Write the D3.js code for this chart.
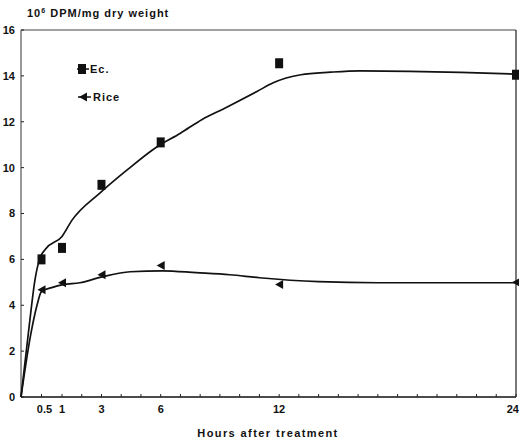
<!DOCTYPE html>
<html>
<head>
<meta charset="utf-8">
<script src="https://cdn.jsdelivr.net/npm/d3@7"></script>
<style>
  body { margin: 0; background: #fff; }
  svg { display: block; font-family: "Liberation Sans", Arial, sans-serif; }
  .lbl { font-size: 11px; font-weight: bold; fill: #111; }
</style>
</head>
<body>
<svg width="519" height="441"></svg>
<script>
const W = 519, H = 441;
const margin = {top: 30, right: 3, bottom: 44, left: 21};

// measured points
const hours = [0.5, 1, 3, 6, 12, 24];
const ecValues = [6.0, 6.5, 9.25, 11.1, 14.55, 14.05];
const riceValues = [4.68, 4.98, 5.33, 5.73, 4.9, 5.0];

// fitted curves as drawn (hours, value)
const ecFitHours = [0, 0.2, 0.34, 0.45, 0.6, 1.0, 1.5, 2.93, 4.3, 5.8, 7.0, 8.1, 9.15, 10.9, 11.7, 13.1, 14.6, 16.1, 18.6, 21.2, 24];
const ecFitValues = [0, 3.1, 5.1, 6.0, 6.45, 7.0, 7.7, 8.9, 9.9, 10.9, 11.5, 12.1, 12.55, 13.33, 13.7, 14.05, 14.16, 14.22, 14.2, 14.15, 14.08];
const riceFitHours = [0, 0.24, 0.39, 0.5, 0.75, 1.05, 1.9, 3.08, 4.45, 6.1, 7.8, 9.5, 11, 14, 17, 24];
const riceFitValues = [0, 2.75, 4.0, 4.6, 4.77, 4.9, 4.98, 5.25, 5.46, 5.5, 5.42, 5.33, 5.2, 5.03, 4.98, 4.98];

const yTicks = [0, 2, 4, 6, 8, 10, 12, 14, 16];
const xLabelTicks = [0.5, 1, 3, 6, 12, 24];
const xMinorTicks = [0.5].concat(d3.range(1, 25));

const innerW = W - margin.left - margin.right;
const innerH = H - margin.top - margin.bottom;

const svg = d3.select("svg");
const g = svg.append("g").attr("transform", `translate(${margin.left},${margin.top})`);

// broken time axis: first hour is stretched
const x = d3.scaleLinear().domain([0, 1, 24]).range([0, 41, innerW]);
const y = d3.scaleLinear().domain([0, 16]).range([innerH, 0]);

// frame
g.append("line").attr("x1", 0).attr("x2", innerW).attr("y1", 0).attr("y2", 0)
  .attr("stroke", "#444").attr("stroke-width", 1);
g.append("line").attr("x1", innerW).attr("x2", innerW).attr("y1", 0).attr("y2", innerH)
  .attr("stroke", "#222").attr("stroke-width", 1.2);
g.append("line").attr("x1", 0).attr("x2", 0).attr("y1", 0).attr("y2", innerH)
  .attr("stroke", "#333").attr("stroke-width", 1);
g.append("line").attr("x1", 0).attr("x2", innerW).attr("y1", innerH).attr("y2", innerH)
  .attr("stroke", "#111").attr("stroke-width", 1.6);

// y ticks
g.selectAll(".ytick").data(yTicks).join("line")
  .attr("x1", 0).attr("x2", 3)
  .attr("y1", d => y(d)).attr("y2", d => y(d))
  .attr("stroke", "#222");
g.selectAll(".ylab").data(yTicks).join("text")
  .attr("class", "lbl")
  .attr("x", -6).attr("y", d => y(d))
  .attr("dy", "0.36em")
  .attr("text-anchor", "end")
  .text(d => d);

// x ticks
g.selectAll(".xtick").data(xMinorTicks).join("line")
  .attr("x1", d => x(d)).attr("x2", d => x(d))
  .attr("y1", innerH).attr("y2", innerH - 3)
  .attr("stroke", "#222");
g.selectAll(".xlab").data(xLabelTicks).join("text")
  .attr("class", "lbl")
  .attr("x", d => x(d) + (d === 0.5 ? 3 : 0)).attr("y", innerH + 16)
  .attr("text-anchor", d => d === 24 ? "end" : "middle")
  .attr("dx", d => d === 24 ? 3 : 0)
  .text(d => d);

// axis titles
svg.append("text").attr("class", "lbl")
  .attr("x", 268).attr("y", 437)
  .attr("text-anchor", "middle")
  .attr("letter-spacing", 1.4)
  .text("Hours after treatment");

const yt = svg.append("text").attr("class", "lbl")
  .attr("x", 27).attr("y", 17)
  .attr("letter-spacing", 1);
yt.append("tspan").text("10");
yt.append("tspan").attr("font-size", 7).attr("dy", -4).text("6");
yt.append("tspan").attr("dy", 4).text(" DPM/mg dry weight");

// curves
const line = d3.line().x(d => x(d[0])).y(d => y(d[1])).curve(d3.curveMonotoneX);
g.append("path")
  .datum(d3.zip(ecFitHours, ecFitValues))
  .attr("d", line)
  .attr("fill", "none").attr("stroke", "#111").attr("stroke-width", 1.7);
g.append("path")
  .datum(d3.zip(riceFitHours, riceFitValues))
  .attr("d", line)
  .attr("fill", "none").attr("stroke", "#111").attr("stroke-width", 1.7);

// markers
const tri = "M-4,0L4,-4.5L4,4.5Z";
g.selectAll(".ec").data(d3.zip(hours, ecValues)).join("rect")
  .attr("x", d => x(d[0]) - 4).attr("y", d => y(d[1]) - 5)
  .attr("width", 8).attr("height", 10)
  .attr("fill", "#111");
g.selectAll(".rice").data(d3.zip(hours, riceValues)).join("path")
  .attr("transform", d => `translate(${x(d[0])},${y(d[1])})`)
  .attr("d", tri)
  .attr("fill", "#111");

// legend
const legend = svg.append("g");
legend.append("line").attr("x1", 77).attr("x2", 89).attr("y1", 69).attr("y2", 69)
  .attr("stroke", "#111").attr("stroke-width", 1.5);
legend.append("rect").attr("x", 78).attr("y", 64).attr("width", 8).attr("height", 10).attr("fill", "#111");
legend.append("text").attr("class", "lbl").attr("x", 90).attr("y", 73)
  .attr("letter-spacing", 1).text("Ec.");
legend.append("line").attr("x1", 78).attr("x2", 91).attr("y1", 97).attr("y2", 97)
  .attr("stroke", "#111").attr("stroke-width", 1.5);
legend.append("path").attr("transform", "translate(83,97)").attr("d", tri).attr("fill", "#111");
legend.append("text").attr("class", "lbl").attr("x", 93).attr("y", 101)
  .attr("letter-spacing", 1).text("Rice");
</script>
</body>
</html>
